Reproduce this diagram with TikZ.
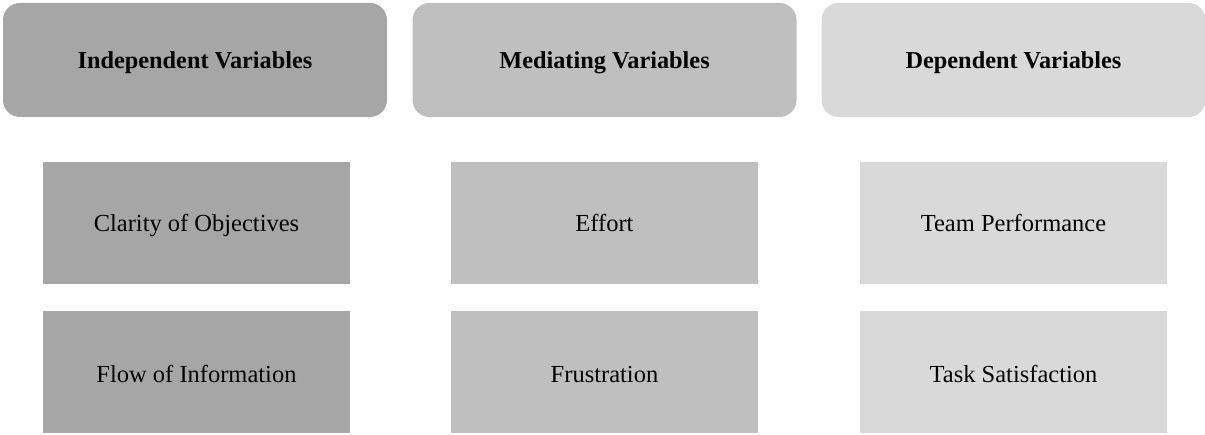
\documentclass[tikz,border=0pt]{standalone}
\usepackage{fontspec}
\setmainfont{Liberation Serif}
\definecolor{indep}{HTML}{A6A6A6}
\definecolor{medi}{HTML}{BFBFBF}
\definecolor{depen}{HTML}{D9D9D9}
\tikzset{
	headbox/.style={rounded corners=17pt, minimum width=384pt, minimum height=114pt, inner sep=0pt, text height=18pt, text depth=0pt, font=\fontsize{24.3}{28}\selectfont\bfseries},
	varbox/.style={minimum width=307pt, minimum height=122pt, inner sep=0pt, text height=#1, text depth=0pt, font=\fontsize{24.5}{28}\selectfont}
}
\begin{document}
\begin{tikzpicture}[x=1pt, y=-1pt]
			\useasboundingbox (0,0) rectangle (1205,435);
			\foreach \x/\c/\n/\t in {195/indep/ind/Independent Variables,604.5/medi/med/Mediating Variables,1013.5/depen/dep/Dependent Variables}{
				\node[headbox, fill=\c] (\n-head) at (\x, 60) {\t};
			}
			\foreach \x/\c/\n/\t in {196.5/indep/ind/Clarity of Objectives,604.5/medi/med/Effort,1013.5/depen/dep/Team Performance}{
				\node[varbox=17pt, fill=\c] (\n-one) at (\x, 223.5) {\t};
			}
			\foreach \x/\c/\n/\t in {196.5/indep/ind/Flow of Information,604.5/medi/med/Frustration,1013.5/depen/dep/Task Satisfaction}{
				\node[varbox=22pt, fill=\c] (\n-two) at (\x, 372) {\t};
			}
		\end{tikzpicture}
\end{document}
